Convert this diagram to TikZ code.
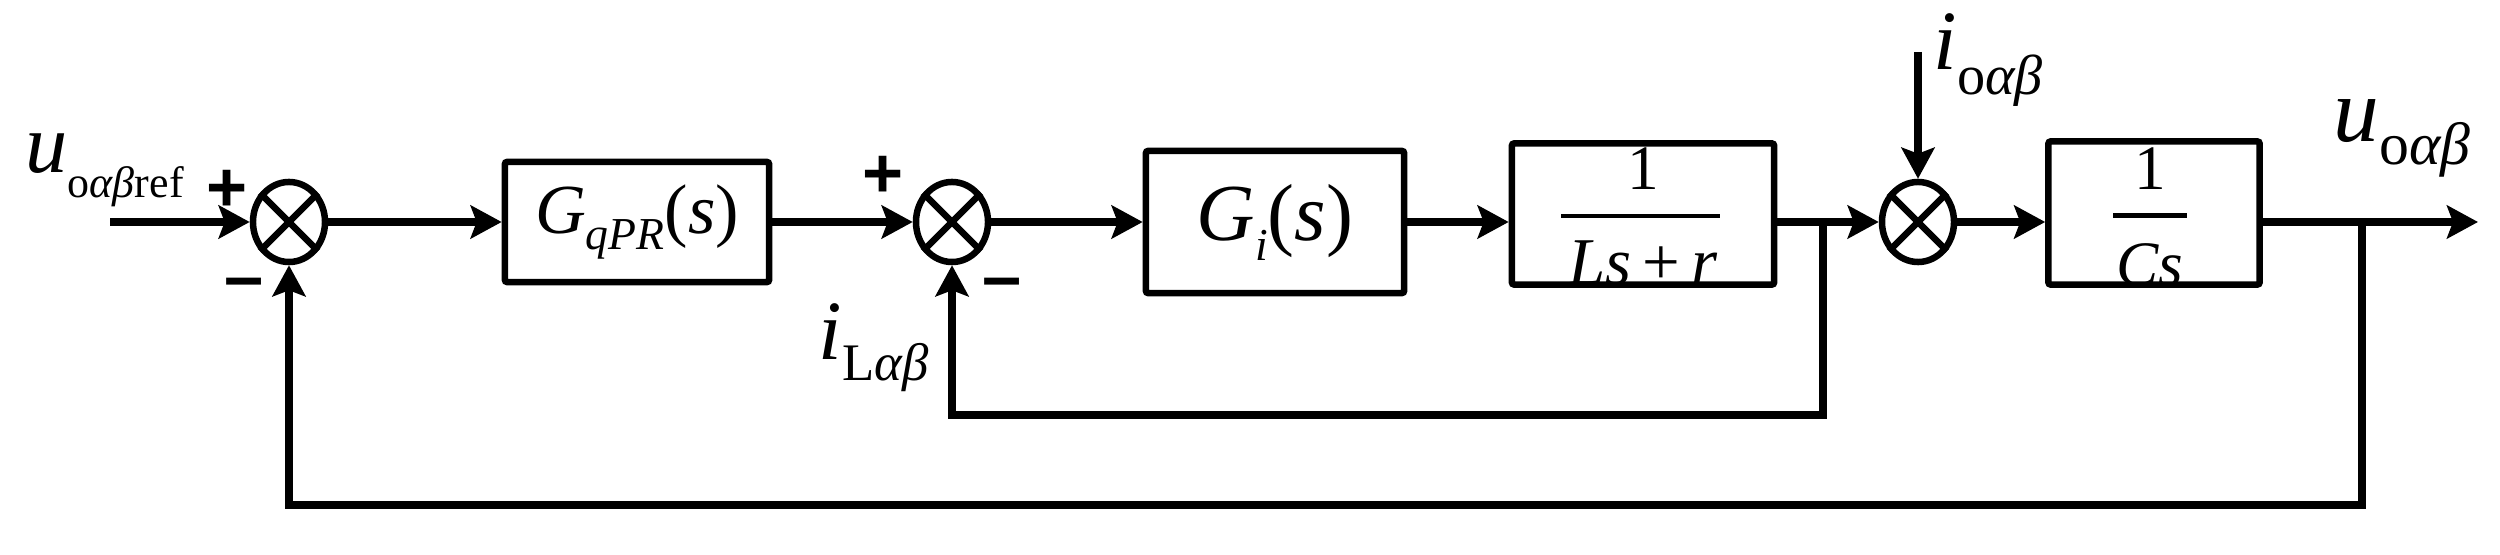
\documentclass[tikz,border=0pt]{standalone}
\usepackage{fontspec}
\setmainfont{Liberation Serif}
\newfontfamily\signfont{Liberation Sans}
\usetikzlibrary{arrows.meta,shapes.geometric,calc}
\newcommand{\fsz}[1]{\fontsize{#1}{#1}\selectfont}
\begin{document}
\begin{tikzpicture}[x=0.01cm,y=-0.01cm,
  blk/.style={draw, line width=0.065cm, rounded corners=0.6pt, inner sep=0pt},
  sumnode/.style={draw, ellipse, line width=0.065cm, minimum width=0.72cm, minimum height=0.80cm, inner sep=0pt},
  cross/.style={line width=0.065cm},
  wire/.style={line width=0.075cm},
  sig/.style={wire, -{Stealth[length=0.31cm, width=0.33cm, inset=0.06cm]}},
  sgn/.style={font=\signfont\bfseries\fsz{20}, inner sep=0pt, anchor=base},
  lbl/.style={inner sep=0pt},
  fbar/.style={line width=0.045cm}
]
\useasboundingbox (0,0) rectangle (2500,555);

% summing junctions
\node[sumnode] (s1) at (289,222) {};
\draw[cross] (s1.135) -- (s1.-45) (s1.45) -- (s1.-135);
\node[sumnode] (s2) at (952,222) {};
\draw[cross] (s2.135) -- (s2.-45) (s2.45) -- (s2.-135);
\node[sumnode] (s3) at (1918,222) {};
\draw[cross] (s3.135) -- (s3.-45) (s3.45) -- (s3.-135);

% blocks
\node[blk, minimum width=2.64cm, minimum height=1.20cm, font=\fsz{20}] (b1) at (637,222)
  {\itshape G\raisebox{-4.8pt}{\fsz{13}qPR}\upshape(\itshape s\upshape)};
\node[blk, minimum width=2.58cm, minimum height=1.42cm, font=\fsz{23}] (gi) at (1275,222)
  {\itshape G\raisebox{-5.7pt}{\fsz{13}i}\upshape(\itshape s\upshape)};
\node[blk, minimum width=2.62cm, minimum height=1.41cm] (b3) at (1643,214) {};
\node[blk, minimum width=2.11cm, minimum height=1.43cm] (b4) at (2154,213) {};

% fractions
\node[lbl, anchor=base, font=\fsz{18}] (b3n) at ($(b3.center)+(0,-24)$) {1};
\draw[fbar] ($(b3.center)+(-82,2)$) -- ($(b3.center)+(77,2)$);
\node[lbl, anchor=base, font=\fsz{19}] (b3d) at ($(b3.center)+(0,71)$) {\itshape Ls\,\upshape+\,\itshape r};
\node[lbl, anchor=base, font=\fsz{18}] (b4n) at ($(b4.center)+(-4,-23)$) {1};
\draw[fbar, line width=0.05cm] ($(b4.center)+(-41,3)$) -- ($(b4.center)+(33,3)$);
\node[lbl, anchor=base, font=\fsz{18}] (b4d) at ($(b4.center)+(-4,73)$) {\itshape Cs};

% coordinates
\coordinate (in) at (110,222);
\coordinate (br1) at (1823,222);
\coordinate (fb1) at (1823,415);
\coordinate (br2) at (2362,222);
\coordinate (fb2) at (2362,505);
\coordinate (out) at (2478,222);
\coordinate (io) at (1918,52);

% connectors
\draw[sig] (in) -- (s1);
\draw[sig] (s1) -- (b1);
\draw[sig] (b1) -- (s2);
\draw[sig] (s2) -- (gi);
\draw[sig] (gi.east) -- (gi.east -| b3.west);
\draw[wire] (b3.east |- br1) -- (br1);
\draw[sig] (br1) -- (s3);
\draw[sig] (s3) -- (s3 -| b4.west);
\draw[wire] (b4.east |- br2) -- (br2);
\draw[sig] (br2) -- (out);
\draw[sig] (br1) -- (fb1) -| (s2);
\draw[sig] (br2) -- (fb2) -| (s1);
\draw[sig] (io) -- (s3);

% signs
\node[sgn] (p1) at (227,212) {+};
\node[sgn] (m1) at (244,301) {–};
\node[sgn] (p2) at (883,198) {+};
\node[sgn] (m2) at (1002,301) {–};

% labels
\node[lbl, anchor=base west] (lref) at (25,173)
  {{\fsz{24}\itshape u}\raisebox{-7pt}{\fsz{12.5}o\itshape αβ\/\upshape ref}};
\node[lbl, anchor=base west] (liL) at (818,360)
  {{\fsz{24}\itshape i}\raisebox{-5.7pt}{\fsz{15}L\itshape αβ}};
\node[lbl, anchor=base west] (lio) at (1933,70)
  {{\fsz{24}\itshape i}\raisebox{-7pt}{\fsz{16}o\itshape αβ}};
\node[lbl, anchor=base west] (luo) at (2333,142)
  {{\fsz{26}\itshape u}\raisebox{-6.5pt}{\fsz{17}o\itshape αβ}};
\end{tikzpicture}
\end{document}
